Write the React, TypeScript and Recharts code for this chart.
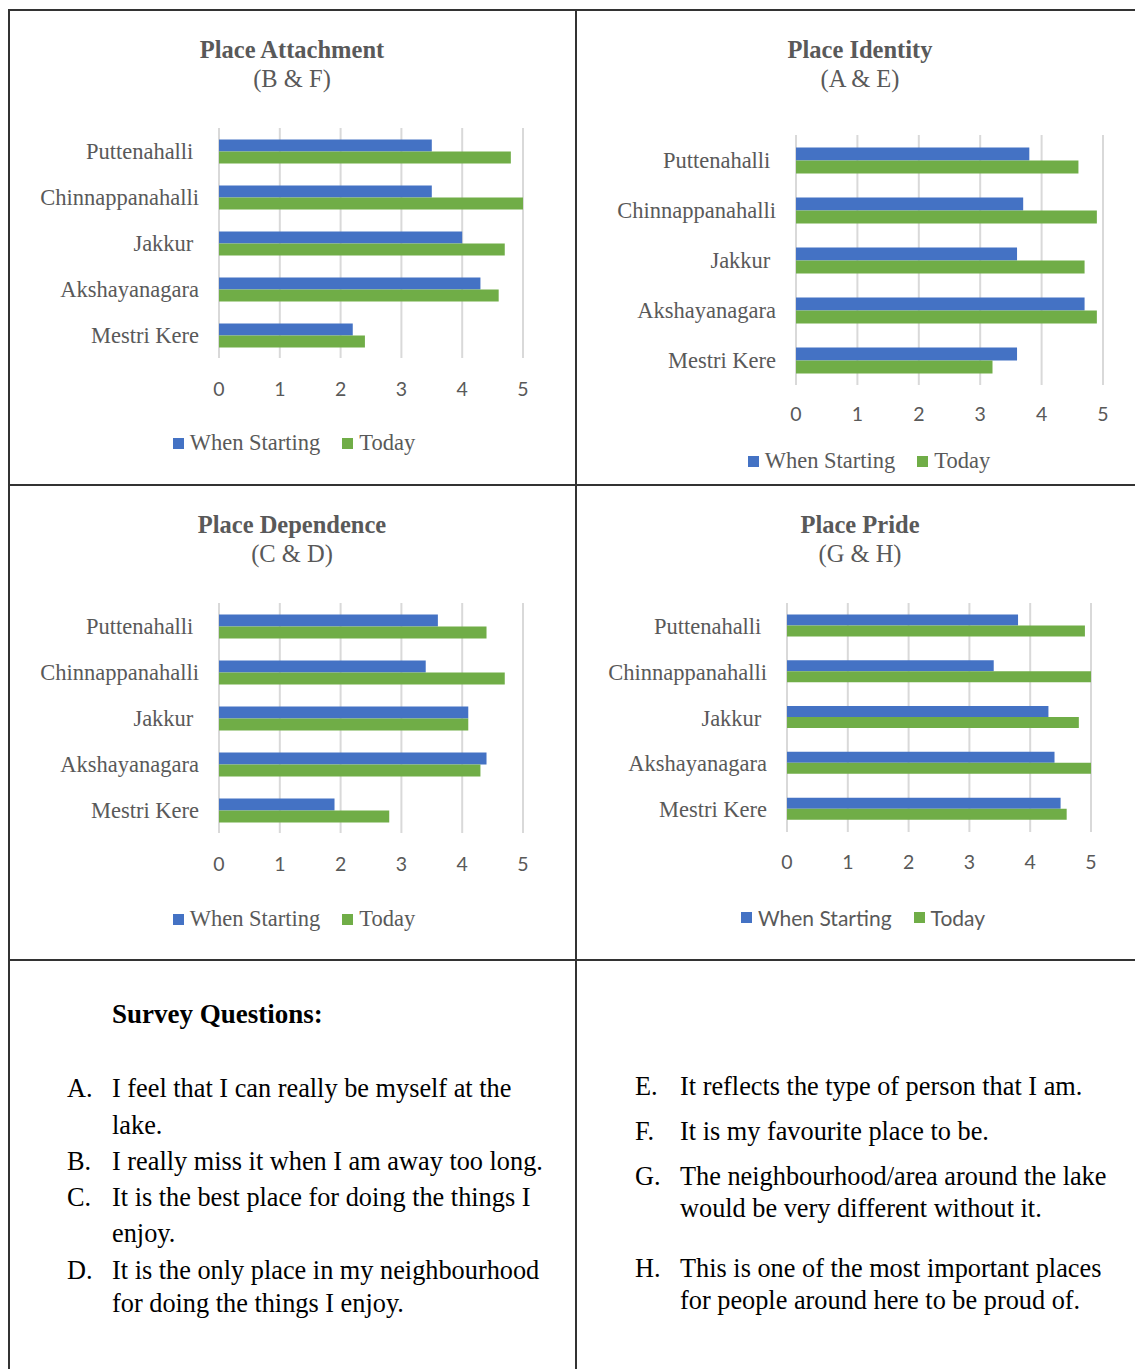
import React from 'react';
import { BarChart, Bar, XAxis, YAxis, CartesianGrid, Legend } from 'recharts';

const places = ['Puttenahalli ', 'Chinnappanahalli', 'Jakkur ', 'Akshayanagara', 'Mestri Kere'];
const xTicks = [0, 1, 2, 3, 4, 5];
const seriesNames = ['When Starting', 'Today'];

const attachStart = [3.5, 3.5, 4.0, 4.3, 2.2];
const attachToday = [4.8, 5.0, 4.7, 4.6, 2.4];
const identityStart = [3.8, 3.7, 3.6, 4.7, 3.6];
const identityToday = [4.6, 4.9, 4.7, 4.9, 3.2];
const dependStart = [3.6, 3.4, 4.1, 4.4, 1.9];
const dependToday = [4.4, 4.7, 4.1, 4.3, 2.8];
const prideStart = [3.8, 3.4, 4.3, 4.4, 4.5];
const prideToday = [4.9, 5.0, 4.8, 5.0, 4.6];

const BLUE = '#4472C4';
const GREEN = '#70AD47';
const GRAY = '#595959';
const SERIF = '"Liberation Serif", "Times New Roman", serif';
const SANS = 'Lato, "Open Sans", sans-serif';

const build = (start: number[], today: number[]) =>
  places.map((name, i) => ({ name, start: start[i], today: today[i] }));

type ChartCfg = {
  title: string;
  sub: string;
  titleX: number;
  titleY: number;
  start: number[];
  today: number[];
  left: number;
  top: number;
  plotLeft: number;
  plotRight: number;
  plotTop: number;
  plotBottom: number;
  tickCenterY: number;
  legendX: number;
  legendY: number;
  legendFont: string;
};

const charts: ChartCfg[] = [
  {
    title: 'Place Attachment', sub: '(B & F)', titleX: 292, titleY: 50,
    start: attachStart, today: attachToday,
    left: 20, top: 110, plotLeft: 219, plotRight: 523, plotTop: 128, plotBottom: 358,
    tickCenterY: 389, legendX: 294, legendY: 443, legendFont: SERIF,
  },
  {
    title: 'Place Identity', sub: '(A & E)', titleX: 860, titleY: 50,
    start: identityStart, today: identityToday,
    left: 590, top: 110, plotLeft: 796, plotRight: 1103, plotTop: 135, plotBottom: 385,
    tickCenterY: 414, legendX: 869, legendY: 461, legendFont: SERIF,
  },
  {
    title: 'Place Dependence', sub: '(C & D)', titleX: 292, titleY: 525,
    start: dependStart, today: dependToday,
    left: 20, top: 585, plotLeft: 219, plotRight: 523, plotTop: 603, plotBottom: 833,
    tickCenterY: 864, legendX: 294, legendY: 919, legendFont: SERIF,
  },
  {
    title: 'Place Pride', sub: '(G & H)', titleX: 860, titleY: 525,
    start: prideStart, today: prideToday,
    left: 590, top: 585, plotLeft: 787, plotRight: 1091, plotTop: 603, plotBottom: 832,
    tickCenterY: 862, legendX: 863, legendY: 917, legendFont: SANS,
  },
];

const CHART_W = 540;
const CHART_H = 370;

const CategoryTick = (props: any) => {
  const { x, y, payload } = props;
  return (
    <text
      x={x}
      y={y}
      dy="0.36em"
      textAnchor="end"
      fill={GRAY}
      fontFamily={SERIF}
      fontSize={22.5}
      style={{ whiteSpace: 'pre' }}
    >
      {payload.value}
    </text>
  );
};

const makeLegend = (font: string) => (props: any) => {
  const items = [...(props.payload || [])].sort(
    (a: any, b: any) => seriesNames.indexOf(a.value) - seriesNames.indexOf(b.value)
  );
  return (
    <div
      style={{
        display: 'flex',
        justifyContent: 'center',
        alignItems: 'center',
        height: 30,
        fontFamily: font,
        fontSize: font === SANS ? 21 : 22.5,
        color: GRAY,
        whiteSpace: 'nowrap',
      }}
    >
      {items.map((it: any, i: number) => (
        <div key={i} style={{ display: 'flex', alignItems: 'center', marginLeft: i > 0 ? 22 : 0 }}>
          <span style={{ width: 11, height: 11, background: it.color, display: 'inline-block', marginRight: 6 }} />
          <span>{it.value}</span>
        </div>
      ))}
    </div>
  );
};

const Chart = ({ cfg }: { cfg: ChartCfg }) => {
  const data = build(cfg.start, cfg.today);
  const yWidth = cfg.plotLeft - cfg.left;
  const marginTop = cfg.plotTop - cfg.top;
  const marginRight = cfg.left + CHART_W - cfg.plotRight;
  const xAxisH = 50;
  const marginBottom = cfg.top + CHART_H - cfg.plotBottom - xAxisH;
  const tickMargin = cfg.tickCenterY - 7 - cfg.plotBottom;
  return (
    <div style={{ position: 'absolute', left: cfg.left, top: cfg.top }}>
      <BarChart
        width={CHART_W}
        height={CHART_H}
        data={data}
        layout="vertical"
        margin={{ top: marginTop, right: marginRight, bottom: marginBottom, left: 0 }}
        barCategoryGap="25%"
        barGap={0}
      >
        <CartesianGrid horizontal={false} vertical stroke="#d9d9d9" strokeWidth={2} />
        <XAxis
          type="number"
          domain={[0, 5]}
          ticks={xTicks}
          axisLine={false}
          tickLine={false}
          tickSize={0}
          tickMargin={tickMargin}
          height={xAxisH}
          tick={{ fill: GRAY, fontFamily: SANS, fontSize: 19.5 }}
          interval={0}
        />
        <YAxis
          type="category"
          dataKey="name"
          width={yWidth}
          axisLine={false}
          tickLine={false}
          tickSize={0}
          tickMargin={20}
          tick={<CategoryTick />}
          interval={0}
        />
        <Bar dataKey="start" name={seriesNames[0]} fill={BLUE} isAnimationActive={false} />
        <Bar dataKey="today" name={seriesNames[1]} fill={GREEN} isAnimationActive={false} />
        <Legend
          layout="horizontal"
          verticalAlign="middle"
          align="center"
          content={makeLegend(cfg.legendFont)}
          wrapperStyle={{
            left: cfg.legendX - cfg.left - 200,
            top: cfg.legendY - cfg.top - 15,
            width: 400,
            height: 30,
          }}
        />
      </BarChart>
    </div>
  );
};

const Title = ({ cfg }: { cfg: ChartCfg }) => (
  <>
    <div
      style={{
        position: 'absolute', left: cfg.titleX - 200, width: 400, top: cfg.titleY - 15, lineHeight: '30px',
        textAlign: 'center', fontFamily: SERIF, fontWeight: 'bold', fontSize: 24.5, color: GRAY,
      }}
    >
      {cfg.title}
    </div>
    <div
      style={{
        position: 'absolute', left: cfg.titleX - 200, width: 400, top: cfg.titleY + 14, lineHeight: '30px',
        textAlign: 'center', fontFamily: SERIF, fontSize: 24.5, color: GRAY,
      }}
    >
      {cfg.sub}
    </div>
  </>
);

const leftQuestions: { label: string; lines: string[]; ys: number[] }[] = [
  { label: 'A.', lines: ['I feel that I can really be myself at the', 'lake.'], ys: [1090, 1127] },
  { label: 'B.', lines: ['I really miss it when I am away too long.'], ys: [1163] },
  { label: 'C.', lines: ['It is the best place for doing the things I', 'enjoy.'], ys: [1199, 1235] },
  { label: 'D.', lines: ['It is the only place in my neighbourhood', 'for doing the things I enjoy.'], ys: [1272, 1305] },
];
const rightQuestions: { label: string; lines: string[]; ys: number[] }[] = [
  { label: 'E.', lines: ['It reflects the type of person that I am.'], ys: [1088] },
  { label: 'F.', lines: ['It is my favourite place to be.'], ys: [1133] },
  { label: 'G.', lines: ['The neighbourhood/area around the lake', 'would be very different without it.'], ys: [1178, 1210] },
  { label: 'H.', lines: ['This is one of the most important places', 'for people around here to be proud of.'], ys: [1270, 1302] },
];

const textStyle: React.CSSProperties = {
  position: 'absolute', fontFamily: SERIF, fontSize: 26.3, color: '#000', lineHeight: '30px', whiteSpace: 'nowrap',
};

const QuestionBlock = ({ qs, labelX, textX }: { qs: typeof leftQuestions; labelX: number; textX: number }) => (
  <>
    {qs.map((q, i) => (
      <React.Fragment key={i}>
        <div style={{ ...textStyle, left: labelX, top: q.ys[0] - 16 }}>{q.label}</div>
        {q.lines.map((ln, j) => (
          <div key={j} style={{ ...textStyle, left: textX, top: q.ys[j] - 16 }}>{ln}</div>
        ))}
      </React.Fragment>
    ))}
  </>
);

const line = (left: number, top: number, width: number, height: number) => (
  <div style={{ position: 'absolute', left, top, width, height, background: '#333' }} />
);

export default function App() {
  return (
    <div style={{ position: 'absolute', left: 0, top: 0, width: 1135, height: 1369, background: '#fff', overflow: 'hidden' }}>
      {line(8, 9, 1127, 2)}
      {line(8, 484, 1127, 2)}
      {line(8, 959, 1127, 2)}
      {line(8, 9, 2, 1360)}
      {line(575, 9, 2, 1360)}
      {charts.map((c, i) => (
        <React.Fragment key={i}>
          <Title cfg={c} />
          <Chart cfg={c} />
        </React.Fragment>
      ))}
      <div style={{ ...textStyle, left: 112, top: 1015 - 16, fontWeight: 'bold', fontSize: 27 }}>Survey Questions:</div>
      <QuestionBlock qs={leftQuestions} labelX={67} textX={112} />
      <QuestionBlock qs={rightQuestions} labelX={635} textX={680} />
    </div>
  );
}
